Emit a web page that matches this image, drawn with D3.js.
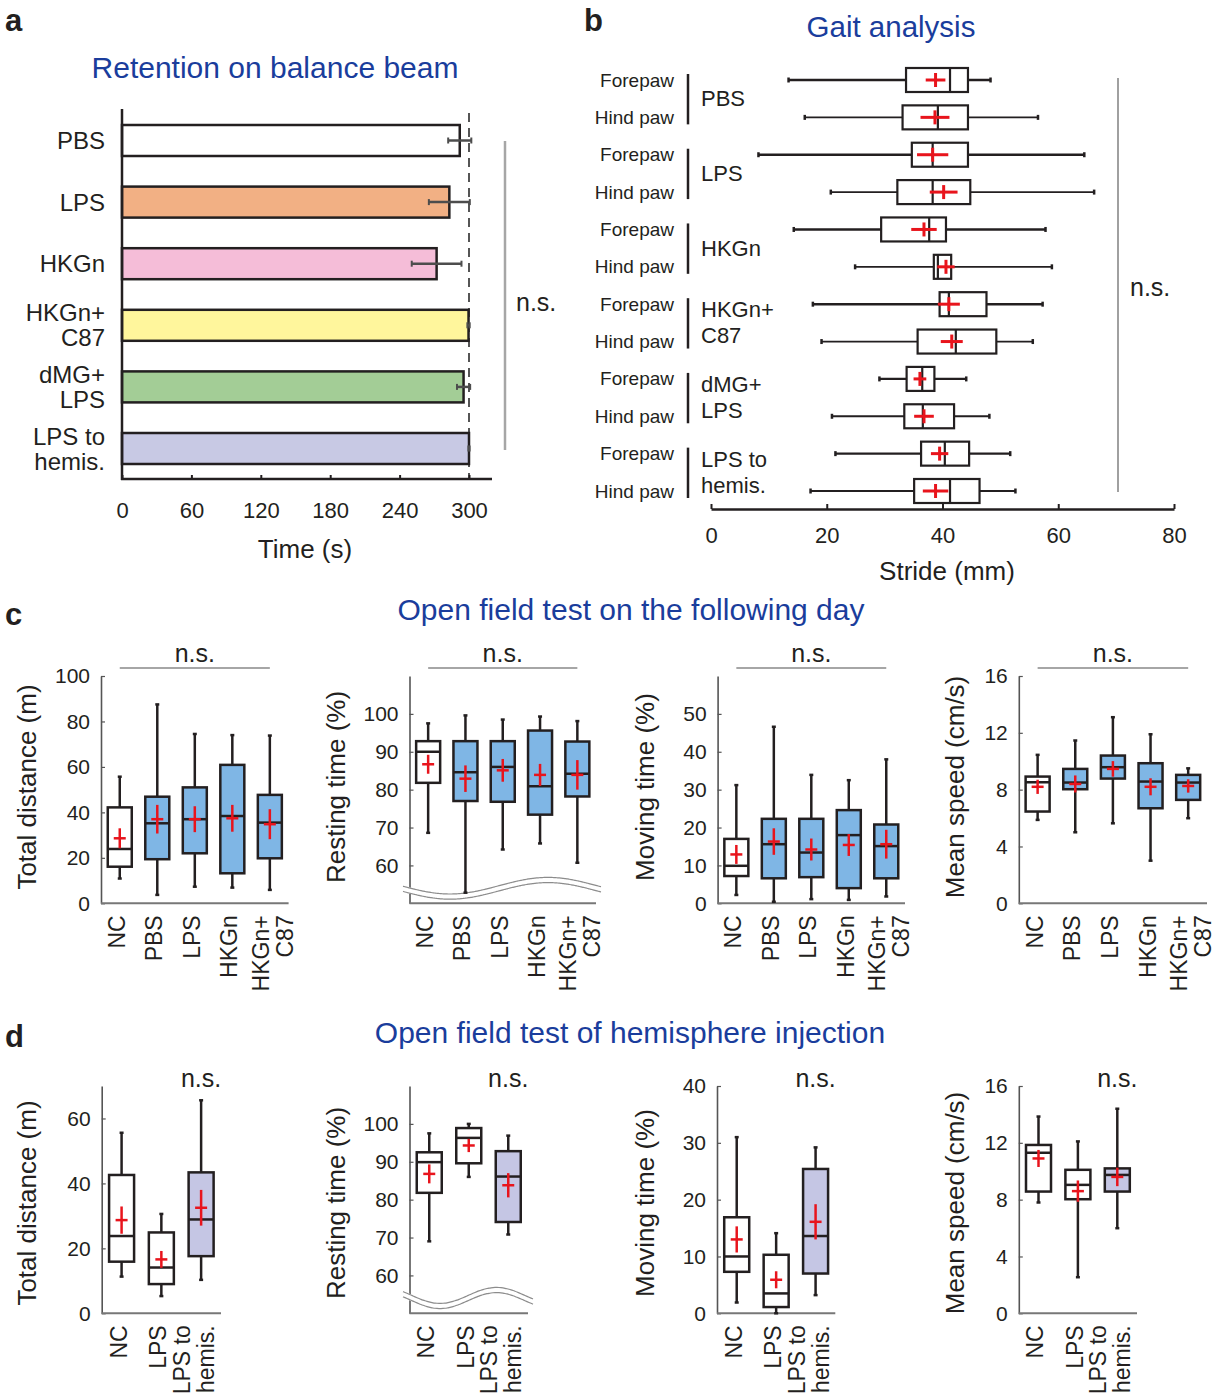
<!DOCTYPE html>
<html><head><meta charset="utf-8">
<script src="https://cdn.jsdelivr.net/npm/d3@7"></script>
<style>
body{margin:0;background:#fff}
svg{display:block}
text{font-family:"Liberation Sans",Arial,Helvetica,sans-serif;fill:#231f20}
</style>
</head><body>
<svg id="fig" width="1215" height="1399"></svg>
<script>
// ---------------- DATA ----------------
// Panel a: retention on balance beam
const aCategories = ["PBS","LPS","HKGn","HKGn+|C87","dMG+|LPS","LPS to|hemis."];
const aTime = [292, 283, 272, 299.6, 295.3, 300];
const aTimeErr = [10, 17.7, 21.5, 1, 5.7, 0.5];
const aColors = ["#ffffff","#f2b084","#f5bdd8","#fff69c","#a3cd96","#c8c9e4"];
const aTicks = [0,60,120,180,240,300];

// Panel b: gait analysis  [whiskerLow, q1, median, q3, whiskerHigh, mean, sem]
const bGroups = ["PBS","LPS","HKGn","HKGn+|C87","dMG+|LPS","LPS to|hemis."];
const bPaws = ["Forepaw","Hind paw"];
const bStride = [
  [13.4,33.7,41.3,44.4,48.3,38.8,1.7],
  [16.2,33.1,39.2,44.4,56.5,38.7,2.5],
  [8.2,34.7,38.3,44.4,64.5,38.3,2.7],
  [20.7,32.2,38.3,44.8,66.2,40.2,2.4],
  [14.3,29.4,37.7,40.6,57.8,36.8,2.2],
  [24.9,38.5,39.2,41.5,58.9,40.6,1.5],
  [17.6,39.5,41.1,47.6,57.3,41.1,1.9],
  [19.1,35.7,42.3,49.3,55.6,41.6,1.9],
  [29.1,33.8,36.5,38.6,44.1,36.1,1.1],
  [20.9,33.4,36.6,42.0,48.1,36.8,1.7],
  [21.5,36.3,40.4,44.6,51.7,39.5,1.5],
  [17.2,35.1,41.3,46.4,52.6,38.8,2.2]
];
const bTicks = [0,20,40,60,80];

// Panel c: open field test on the following day
const cCategories = ["NC","PBS","LPS","HKGn","HKGn+|C87"];
const cDistance = [
  [10.9,16.1,23.9,42.2,55.7,28.6,4.4],
  [3.7,19.4,35.2,46.9,87.5,37.0,6.3],
  [7.3,22.0,37.0,51.0,74.5,37.0,5.7],
  [6.9,13.2,38.4,60.9,74.0,37.4,5.9],
  [5.9,19.8,35.5,47.7,73.8,34.8,6.6]];
const cResting = [
  [68.6,81.8,90.0,92.8,97.5,86.7,2.5],
  [52.8,77.0,84.6,92.8,99.6,82.9,3.5],
  [64.2,76.8,86.0,92.8,98.5,85.1,3.0],
  [65.8,73.4,80.9,95.6,99.3,83.9,2.9],
  [60.7,78.2,84.2,92.7,98.1,83.9,3.9]];
const cMoving = [
  [2.2,7.2,9.9,17.0,31.2,12.9,2.5],
  [0.4,6.6,15.6,22.3,46.6,16.3,3.5],
  [1.1,6.9,13.4,22.3,33.9,14.2,2.9],
  [0.9,4.0,18.0,24.6,32.5,15.4,2.9],
  [1.8,6.6,15.1,20.8,38.0,15.6,3.8]];
const cSpeed = [
  [5.87,6.46,8.52,8.92,10.45,8.2,0.5],
  [5.0,8.03,8.5,9.46,11.46,8.4,0.6],
  [5.63,8.78,9.58,10.4,13.1,9.46,0.55],
  [3.0,6.69,8.57,9.86,11.9,8.2,0.6],
  [5.99,7.28,8.5,9.04,9.5,8.26,0.47]];

// Panel d: open field test of hemisphere injection
const dCategories = ["NC","LPS","LPS to|hemis."];
const dDistance = [
  [11.3,15.9,23.8,42.6,55.6,28.7,4.2],
  [5.3,9.0,14.1,24.9,30.6,16.6,2.6],
  [10.3,17.6,28.9,43.4,65.6,32.5,5.5]];
const dResting = [
  [69.0,81.8,89.9,92.5,97.5,86.8,2.5],
  [86.0,89.6,96.3,98.9,100,94.3,1.75],
  [70.8,74.1,86.1,92.8,96.9,83.8,3.2]];
const dMoving = [
  [1.9,7.3,10.0,16.9,31.0,13.0,2.3],
  [0,1.1,3.5,10.3,14.1,5.9,1.5],
  [3.2,7.0,13.6,25.4,29.2,16.1,3.1]];
const dSpeed = [
  [7.8,8.57,11.3,11.85,13.85,10.9,0.6],
  [2.54,8.03,9.04,10.1,12.1,8.6,0.75],
  [5.99,8.57,9.74,10.2,14.4,9.6,0.65]];

const distanceTicksC = [0,20,40,60,80,100];
const restingTicks = [60,70,80,90,100];
const movingTicksC = [0,10,20,30,40,50];
const speedTicks = [0,4,8,12,16];
const distanceTicksD = [0,20,40,60];
const movingTicksD = [0,10,20,30,40];

// ---------------- DRAWING ----------------
const RED = "#e8141c", BLACK = "#231f20", TITLE = "#1a3d9c";
const FONT = '"Liberation Sans",Arial,Helvetica,sans-serif';
const svg = d3.select("#fig");
svg.append("rect").attr("width",1215).attr("height",1399).attr("fill","#fff");

function txt(g, x, y, s, size, opts={}) {
  const t = g.append("text").attr("x",x).attr("y",y).text(s)
    .attr("font-size",size).attr("font-family",FONT);
  if (opts.anchor) t.attr("text-anchor",opts.anchor);
  if (opts.base) t.attr("dominant-baseline",opts.base);
  if (opts.weight) t.attr("font-weight",opts.weight);
  if (opts.fill) t.style("fill",opts.fill);
  if (opts.rotate) t.attr("transform",`rotate(${opts.rotate},${x},${y})`);
  return t;
}
function line(g,x1,y1,x2,y2,stroke,w,extra){
  const l = g.append("line").attr("x1",x1).attr("y1",y1).attr("x2",x2).attr("y2",y2)
   .attr("stroke",stroke).attr("stroke-width",w);
  if (extra) l.attr("stroke-dasharray",extra);
  return l;
}

// Panel letters
txt(svg,5,31,"a",31,{weight:"bold"});
txt(svg,584,31,"b",31,{weight:"bold"});
txt(svg,5,625,"c",31,{weight:"bold"});
txt(svg,5,1047,"d",31,{weight:"bold"});

// ===== Panel a =====
(function(){
  const g = svg.append("g");
  const x = d3.scaleLinear().domain([0,300]).range([122,469]);
  const y = d3.scalePoint().domain(aCategories).range([140.5,448.5]);
  txt(g,275,78,"Retention on balance beam",30,{anchor:"middle",fill:TITLE});
  line(g,x(300),113,x(300),479,"#555",2,"9,6");
  g.selectAll("rect.bar").data(aCategories).join("rect")
    .attr("x",x(0)).attr("y",d=>y(d)-15.5)
    .attr("width",(d,i)=>x(aTime[i])-x(0)).attr("height",31)
    .attr("fill",(d,i)=>aColors[i]).attr("stroke",BLACK).attr("stroke-width",2.5);
  aCategories.forEach((c,i)=>{
    const lo = x(aTime[i]-aTimeErr[i]), hi = x(aTime[i]+aTimeErr[i]), yy = y(c);
    line(g,lo,yy,hi,yy,"#4d4d4d",2.5);
    line(g,lo,yy-3,lo,yy+3,"#4d4d4d",2);
    line(g,hi,yy-3,hi,yy+3,"#4d4d4d",2);
    const parts = c.split("|");
    parts.forEach((p,j)=>{
      const dy = parts.length===1 ? 0 : (j===0 ? -12.5 : 12.5);
      txt(g,105,yy+dy,p,24,{anchor:"end",base:"central"});
    });
  });
  // axes
  line(g,122,109,122,480,BLACK,2.5);
  line(g,121,479,492,479,BLACK,2.5);
  const ax = g.append("g").attr("transform","translate(0,479)")
    .call(d3.axisBottom(x).tickValues(aTicks).tickSizeInner(-4).tickSizeOuter(0).tickPadding(23));
  ax.select(".domain").remove();
  ax.selectAll(".tick line").attr("stroke",BLACK).attr("stroke-width",2);
  ax.selectAll(".tick text").attr("font-size",22).attr("font-family",FONT).style("fill",BLACK);
  txt(g,305,558,"Time (s)",26,{anchor:"middle"});
  // n.s.
  line(g,505,141,505,450,"#a6a6a6",2.5);
  txt(g,516,302,"n.s.",25,{base:"central"});
})();

// ===== Panel b =====
(function(){
  const g = svg.append("g");
  const x = d3.scaleLinear().domain([0,80]).range([711,1174]);
  const rows = d3.range(bStride.length);
  const y = d3.scalePoint().domain(rows).range([80,491]);
  txt(g,891,37,"Gait analysis",29.5,{anchor:"middle",fill:TITLE});
  // n.s.
  line(g,1118,78,1118,492,"#808080",1.5);
  txt(g,1130,287,"n.s.",25,{base:"central"});
  bStride.forEach((d,i)=>{
    const yy = y(i);
    const [wl,q1,md,q3,wh,mn,er] = d;
    line(g,x(wl),yy,x(wh),yy,BLACK,i%2===0?2.4:1.8);
    line(g,x(wl),yy-2.5,x(wl),yy+2.5,BLACK,2.5);
    line(g,x(wh),yy-2.5,x(wh),yy+2.5,BLACK,2.5);
    g.append("rect").attr("x",x(q1)).attr("y",yy-12).attr("width",x(q3)-x(q1)).attr("height",24)
      .attr("fill","#fff").attr("stroke",BLACK).attr("stroke-width",2.2);
    line(g,x(md),yy-12,x(md),yy+12,BLACK,2.2);
    line(g,x(mn-er),yy,x(mn+er),yy,RED,3);
    line(g,x(mn),yy-7,x(mn),yy+7,RED,3);
    txt(g,674,yy,bPaws[i%2],19,{anchor:"end",base:"central"});
  });
  bGroups.forEach((grp,k)=>{
    const y0 = y(2*k), y1 = y(2*k+1), mid=(y0+y1)/2;
    line(g,688,y0-6,688,y1+7,BLACK,2.5);
    const parts = grp.split("|");
    parts.forEach((p,j)=>{
      const dy = parts.length===1 ? 0 : (j===0 ? -13 : 13);
      txt(g,701,mid+dy,p,22,{base:"central"});
    });
  });
  const ax = g.append("g").attr("transform","translate(0,509)")
    .call(d3.axisBottom(x).tickValues(bTicks).tickSizeInner(-5).tickSizeOuter(0).tickPadding(18));
  ax.select(".domain").attr("stroke",BLACK).attr("stroke-width",2.5);
  ax.selectAll(".tick line").attr("stroke",BLACK).attr("stroke-width",2);
  ax.selectAll(".tick text").attr("font-size",22).attr("font-family",FONT).style("fill",BLACK);
  txt(g,947,580,"Stride (mm)",26,{anchor:"middle"});
})();

// ===== Vertical box charts (c, d) =====
function vbox(cfg){
  const g = svg.append("g");
  const x = d3.scalePoint().domain(cfg.cats).range([cfg.x0,cfg.x1]).padding(0.5);
  const y = d3.scaleLinear().domain(cfg.domain).range([cfg.yBot,cfg.yTop]);
  // axes
  const ay = g.append("g").attr("transform",`translate(${cfg.x0},0)`)
    .call(d3.axisLeft(y).tickValues(cfg.ticks).tickSizeInner(-4).tickSizeOuter(0).tickPadding(11));
  ay.select(".domain").attr("stroke","#555").attr("stroke-width",1.6);
  ay.selectAll(".tick line").attr("stroke","#555").attr("stroke-width",1.2);
  ay.selectAll(".tick text").attr("font-size",21).attr("font-family",FONT).style("fill",BLACK);
  line(g,cfg.x0,cfg.yBot,cfg.x1,cfg.yBot,"#777",2);
  // broken axis wave
  if (cfg.wave){
    const w = cfg.wave;
    const pts = d3.range(w.xa,w.xb+1,2).map(px=>[px, w.mid + w.amp*Math.cos(2*Math.PI*(px-w.xPeak)/w.period)]);
    const ln = d3.line().curve(d3.curveBasis);
    g.append("path").attr("d",ln(pts)).attr("fill","none").attr("stroke","#fff").attr("stroke-width",6);
    [-2.6,2.6].forEach(off=>{
      g.append("path").attr("d",ln(pts.map(p=>[p[0],p[1]+off]))).attr("fill","none")
        .attr("stroke","#8c8c8c").attr("stroke-width",1.2);
    });
  }
  // boxes
  const bw = cfg.boxW;
  cfg.data.forEach((d,i)=>{
    const cx = x(cfg.cats[i]);
    const [wl,q1,md,q3,wh,mn,er] = d;
    line(g,cx,y(wl),cx,y(wh),BLACK,2.5);
    line(g,cx-2,y(wl),cx+2,y(wl),BLACK,2.5);
    line(g,cx-2,y(wh),cx+2,y(wh),BLACK,2.5);
    g.append("rect").attr("x",cx-bw/2).attr("y",y(q3)).attr("width",bw).attr("height",y(q1)-y(q3))
      .attr("fill",cfg.fills[i]).attr("stroke",BLACK).attr("stroke-width",2.5);
    line(g,cx-bw/2,y(md),cx+bw/2,y(md),BLACK,2.5);
    line(g,cx,y(mn-er),cx,y(mn+er),RED,2.5);
    line(g,cx-6,y(mn),cx+6,y(mn),RED,2.5);
  });
  // category labels
  cfg.cats.forEach(c=>{
    const parts = c.split("|");
    parts.forEach((p,j)=>{
      const off = parts.length===1 ? -3 : cfg.lineOff[j];
      const px = x(c)+off, py = cfg.yBot+12;
      txt(g,px,py,p,23,{anchor:"end",base:"central",rotate:-90});
    });
  });
  // y title
  txt(g,cfg.titleX,cfg.titleY,cfg.ytitle,26,{anchor:"middle",base:"central",rotate:-90});
  // n.s.
  if (cfg.nsLine){
    const xa = x(cfg.cats[0]), xb = x(cfg.cats[cfg.cats.length-1]);
    line(g,xa,cfg.nsY,xb,cfg.nsY,"#a6a6a6",2);
    txt(g,(xa+xb)/2,cfg.nsY-15,"n.s.",25,{anchor:"middle",base:"central"});
  } else {
    txt(g,x(cfg.cats[cfg.cats.length-1]),cfg.nsY,"n.s.",25,{anchor:"middle",base:"central"});
  }
}

const BLUE = "#7fb6e5", LAV = "#c5c6e4";
const cFills = ["#fff",BLUE,BLUE,BLUE,BLUE];
const dFills = ["#fff","#fff",LAV];

txt(svg,631,620,"Open field test on the following day",30,{anchor:"middle",fill:TITLE});
txt(svg,630,1043,"Open field test of hemisphere injection",30,{anchor:"middle",fill:TITLE});

const cBase = {cats:cCategories,yTop:676,yBot:903.3,fills:cFills,boxW:24,lineOff:[-9,15],titleY:787,nsLine:true,nsY:668};
vbox({...cBase,x0:101,x1:288.6,domain:[0,100],ticks:distanceTicksC,data:cDistance,ytitle:"Total distance (m)",titleX:27});
vbox({...cBase,x0:409.5,x1:596,domain:[50,110],ticks:restingTicks,data:cResting,ytitle:"Resting time (%)",titleX:336,
  wave:{xa:403,xb:602,mid:888.3,amp:8.3,period:196,xPeak:450}});
vbox({...cBase,x0:717.6,x1:905,domain:[0,60],ticks:movingTicksC,data:cMoving,ytitle:"Moving time (%)",titleX:645});
vbox({...cBase,x0:1018.8,x1:1207,domain:[0,16],ticks:speedTicks,data:cSpeed,ytitle:"Mean speed (cm/s)",titleX:955});

const dBase = {cats:dCategories,yTop:1086,yBot:1313.3,fills:dFills,boxW:25,lineOff:[-19,5],titleY:1203,nsLine:false,nsY:1078};
vbox({...dBase,x0:101.7,x1:221,domain:[0,70],ticks:distanceTicksD,data:dDistance,ytitle:"Total distance (m)",titleX:27});
vbox({...dBase,x0:409.5,x1:528,domain:[50,110],ticks:restingTicks,data:dResting,ytitle:"Resting time (%)",titleX:336,
  wave:{xa:403,xb:534,mid:1298,amp:8,period:113,xPeak:440}});
vbox({...dBase,x0:717,x1:835.3,domain:[0,40],ticks:movingTicksD,data:dMoving,ytitle:"Moving time (%)",titleX:645});
vbox({...dBase,x0:1018.8,x1:1137,domain:[0,16],ticks:speedTicks,data:dSpeed,ytitle:"Mean speed (cm/s)",titleX:955});
</script>
</body></html>
